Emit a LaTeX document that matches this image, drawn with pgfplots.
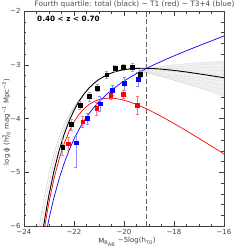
\documentclass[border=0pt]{standalone}
\usepackage{fontspec}
\setmainfont{DejaVu Sans}
\usepackage{pgfplots}
\pgfplotsset{compat=1.18}
\definecolor{axgray}{gray}{0.25}
\begin{document}
\begin{tikzpicture}[x=1bp,y=1bp]
\useasboundingbox (-24,-23) rectangle (225,226);
\begin{axis}[
  at={(0,0)}, anchor=south west, scale only axis,
  width=200bp, height=215bp,
  xmin=-24, xmax=-16, ymin=-6, ymax=-2,
  xtick={-24,-22,-20,-18,-16}, xticklabels={−24,−22,−20,−18,−16},
  ytick={-6,-5,-4,-3,-2}, yticklabels={−6,−5,−4,−3,−2},
  minor x tick num=3, minor y tick num=4,
  tick align=inside, major tick length=5bp, minor tick length=2.5bp,
  ticklabel style={font=\fontsize{7}{8}\selectfont, text=axgray},
  axis line style={axgray, line width=0.5pt},
  every tick/.style={axgray, line width=0.4pt},
  clip=true,
]
% shaded uncertainty band (faint end)
\addplot[fill=gray!12, draw=gray!35, line width=0.2pt] coordinates {
 (-19.4,-3.07) (-19.1,-3.065) (-18.5,-3.03) (-18,-3.0) (-17.5,-2.98) (-17,-2.96) (-16.5,-2.945) (-16,-2.93)
 (-16,-3.59) (-16.5,-3.51) (-17,-3.43) (-17.5,-3.36) (-18,-3.29) (-18.5,-3.22) (-19.1,-3.14) (-19.4,-3.13)
} -- cycle;
\addplot[gray!50, densely dotted, line width=0.35pt] coordinates {(-19.4,-3.09) (-16,-2.97)};
\addplot[gray!50, densely dotted, line width=0.35pt] coordinates {(-19.4,-3.09) (-16,-3.04)};
\addplot[gray!50, densely dotted, line width=0.35pt] coordinates {(-19.4,-3.10) (-16,-3.11)};
\addplot[gray!50, densely dotted, line width=0.35pt] coordinates {(-19.4,-3.10) (-16,-3.18)};
\addplot[gray!50, densely dotted, line width=0.35pt] coordinates {(-19.4,-3.11) (-16,-3.30)};
\addplot[gray!50, densely dotted, line width=0.35pt] coordinates {(-19.4,-3.11) (-16,-3.38)};
\addplot[gray!50, densely dotted, line width=0.35pt] coordinates {(-19.4,-3.12) (-16,-3.46)};
\addplot[gray!50, densely dotted, line width=0.35pt] coordinates {(-19.4,-3.12) (-16,-3.53)};
% gray alternative curves near bright end
\addplot[gray!45, line width=0.4pt] coordinates {
 (-23.47,-6.267) (-23.37,-5.957) (-23.27,-5.675) (-23.17,-5.418) (-22.97,-4.973) (-22.77,-4.606) (-22.56,-4.303) (-22.34,-4.054) (-22.10,-3.849) (-21.85,-3.681) (-21.6,-3.545)
};
\addplot[gray!45, line width=0.4pt] coordinates {
 (-23.39,-6.267) (-23.29,-5.957) (-23.19,-5.675) (-23.09,-5.418) (-22.89,-4.973) (-22.69,-4.606) (-22.48,-4.303) (-22.27,-4.054) (-22.05,-3.849) (-21.83,-3.681) (-21.6,-3.545)
};
% dashed limit
\addplot[gray!80!black, line width=0.6pt, dash pattern=on 5pt off 2.5pt] coordinates {(-19.1,-6) (-19.1,-2)};
% Schechter fits
\addplot[black, line width=0.9pt] coordinates {
 (-23.3,-6.267) (-23.2,-5.957) (-23.1,-5.675) (-23.0,-5.418) (-22.8,-4.973) (-22.6,-4.606) (-22.4,-4.303) (-22.2,-4.054) (-22.0,-3.849) (-21.8,-3.681) (-21.6,-3.545) (-21.4,-3.434) (-21.2,-3.344) (-21.0,-3.272) (-20.7,-3.191) (-20.4,-3.135) (-20.1,-3.100) (-19.8,-3.078) (-19.5,-3.067) (-19.2,-3.065) (-18.8,-3.071) (-18.4,-3.086) (-18.0,-3.105) (-17.5,-3.135) (-17.0,-3.169) (-16.5,-3.205) (-16.0,-3.242)
};
\addplot[red, line width=0.7pt] coordinates {
 (-23.3,-6.419) (-23.2,-6.103) (-23.1,-5.818) (-23.0,-5.560) (-22.8,-5.119) (-22.6,-4.761) (-22.4,-4.474) (-22.2,-4.245) (-22.0,-4.065) (-21.8,-3.925) (-21.6,-3.818) (-21.4,-3.739) (-21.2,-3.684) (-21.0,-3.647) (-20.7,-3.622) (-20.4,-3.625) (-20.1,-3.648) (-19.8,-3.687) (-19.5,-3.738) (-19.2,-3.798) (-18.8,-3.889) (-18.4,-3.988) (-18.0,-4.093) (-17.5,-4.230) (-17.0,-4.371) (-16.5,-4.515) (-16.0,-4.660)
};
\addplot[blue, line width=0.7pt] coordinates {
 (-23.3,-6.616) (-23.1,-6.098) (-23.0,-5.870) (-22.9,-5.661) (-22.8,-5.469) (-22.6,-5.129) (-22.4,-4.841) (-22.2,-4.595) (-22.0,-4.384) (-21.8,-4.203) (-21.6,-4.047) (-21.4,-3.911) (-21.2,-3.792) (-21.0,-3.687) (-20.7,-3.551) (-20.4,-3.435) (-20.1,-3.334) (-19.8,-3.245) (-19.5,-3.164) (-19.2,-3.091) (-18.8,-2.999) (-18.4,-2.916) (-18.0,-2.835) (-17.5,-2.739) (-17.0,-2.646) (-16.5,-2.555) (-16.0,-2.465)
};
% data points
\addplot[only marks, mark=square*, mark size=1.9bp, black,
  error bars/.cd, y dir=both, y explicit, error bar style={gray!70, line width=0.5pt}, error mark options={gray!70, mark size=1.5bp, rotate=90}]
 coordinates {
 (-22.45,-4.53) +- (0,0.15)
 (-22.11,-4.11) +- (0,0.10)
 (-21.76,-3.75) +- (0,0.08)
 (-21.39,-3.59) +- (0,0.08)
 (-21.07,-3.43) +- (0,0.07)
 (-20.69,-3.185) +- (0,0.07)
 (-20.36,-3.06) +- (0,0.06)
 (-20.03,-3.05) +- (0,0.06)
 (-19.66,-3.05) +- (0,0.07)
 (-19.34,-3.17) +- (0,0.07)
};
\addplot[only marks, mark=square*, mark size=1.9bp, red,
  error bars/.cd, y dir=both, y explicit, error bar style={red!55, line width=0.5pt}, error mark options={red!55, mark size=1.5bp, rotate=90}]
 coordinates {
 (-22.23,-4.47) +- (0,0.12)
 (-21.65,-4.06) +- (0,0.10)
 (-21.09,-3.81) +- (0,0.12)
 (-20.53,-3.57) +- (0,0.08)
 (-20.02,-3.55) +- (0,0.08)
 (-19.46,-3.75) +- (0,0.17)
};
\addplot[only marks, mark=square*, mark size=1.9bp, blue,
  error bars/.cd, y dir=both, y explicit, error bar style={blue!45, line width=0.5pt}, error mark options={blue!45, mark size=1.5bp, rotate=90}]
 coordinates {
 (-21.92,-4.45) += (0,0.12) -= (0,0.45)
 (-21.47,-4.00) +- (0,0.10)
 (-20.96,-3.725) +- (0,0.14)
 (-20.47,-3.475) +- (0,0.10)
 (-19.99,-3.35) +- (0,0.12)
 (-19.44,-3.27) +- (0,0.13)
};
\end{axis}
\node[anchor=base, font=\fontsize{7.4}{8}\selectfont, text=gray!60!black] at (110.5,219.5) {Fourth quartile: total (black) − T1 (red) − T3+4 (blue)};
\node[anchor=base west, font=\bfseries\fontsize{7.3}{8}\selectfont, inner sep=0pt] at (13,204.5) {0.40 < z < 0.70};
\node[anchor=base, font=\fontsize{7}{8}\selectfont, text=axgray] at (103,-17) {M\textsubscript{B\textsubscript{AB}} −5log(h\textsubscript{70})};
\node[anchor=base, rotate=90, font=\fontsize{7}{8}\selectfont, text=axgray] at (-15,104) {log ϕ (h\rlap{\textsuperscript{3}}\textsubscript{70} mag\textsuperscript{−1} Mpc\textsuperscript{−3})};
\end{tikzpicture}
\end{document}
